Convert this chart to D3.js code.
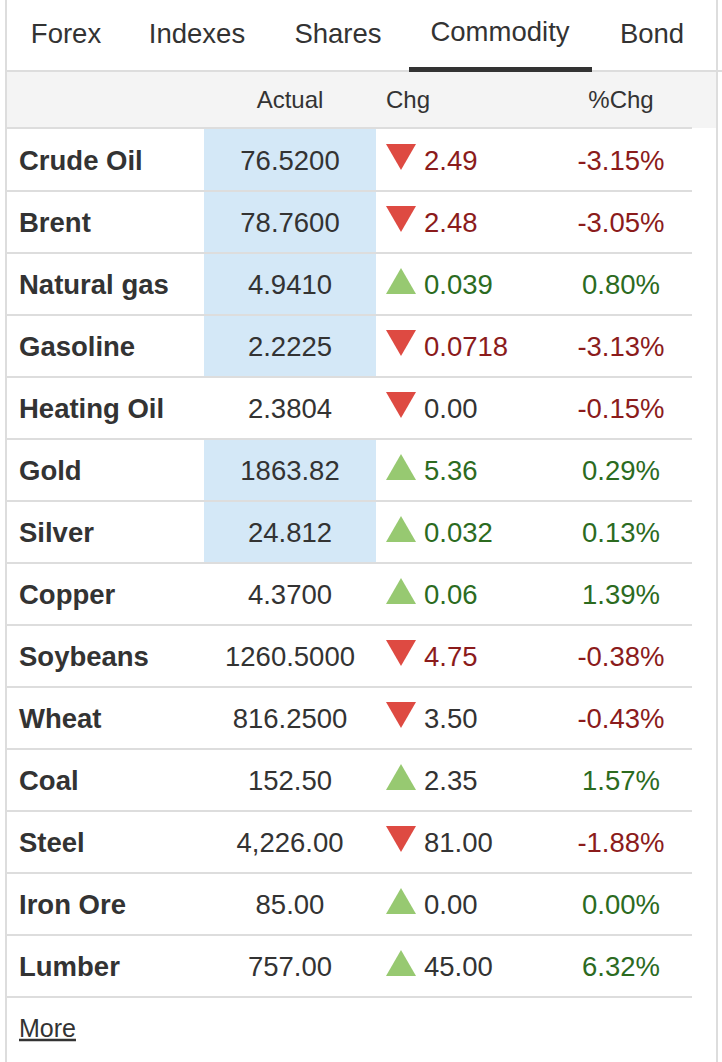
<!DOCTYPE html>
<html>
<head>
<meta charset="utf-8">
<script src="https://cdnjs.cloudflare.com/ajax/libs/d3/7.8.5/d3.min.js"></script>
<style>
    body { margin: 0; background: #fff; }
    svg text { font-family: "Helvetica Neue", Helvetica, Arial, "Liberation Sans", sans-serif; }
</style>
</head>
<body>
<div id="vizHolder"></div>
<script>
// tabs
const tabs = ['Forex', 'Indexes', 'Shares', 'Commodity', 'Bond'];
const activeTab = 'Commodity';
const headers = ['Actual', 'Chg', '%Chg'];

// table values
const names = ['Crude Oil', 'Brent', 'Natural gas', 'Gasoline', 'Heating Oil', 'Gold', 'Silver',
    'Copper', 'Soybeans', 'Wheat', 'Coal', 'Steel', 'Iron Ore', 'Lumber'];
const actual = ['76.5200', '78.7600', '4.9410', '2.2225', '2.3804', '1863.82', '24.812',
    '4.3700', '1260.5000', '816.2500', '152.50', '4,226.00', '85.00', '757.00'];
const chg = ['2.49', '2.48', '0.039', '0.0718', '0.00', '5.36', '0.032',
    '0.06', '4.75', '3.50', '2.35', '81.00', '0.00', '45.00'];
const direction = ['down', 'down', 'up', 'down', 'down', 'up', 'up',
    'up', 'down', 'down', 'up', 'down', 'up', 'up'];
// colour state of the Chg number (flat = neutral text)
const chgTone = ['down', 'down', 'up', 'down', 'flat', 'up', 'up',
    'up', 'down', 'flat', 'flat', 'flat', 'flat', 'flat'];
const pctChg = ['-3.15%', '-3.05%', '0.80%', '-3.13%', '-0.15%', '0.29%', '0.13%',
    '1.39%', '-0.38%', '-0.43%', '1.57%', '-1.88%', '0.00%', '6.32%'];
const highlighted = [true, true, true, true, false, true, true,
    false, false, false, false, false, false, false];

const graphicopt = {
    width: 722,
    height: 1062,
    left: 7,
    right: 716,
    lineEnd: 692,
    tabBottom: 71,
    headBottom: 128,
    tableBottom: 997,
    color: {
        text: '#333333',
        line: '#dddddd',
        head: '#f4f4f4',
        highlight: '#d4e8f7',
        up: '#2c6b1f',
        down: '#8b1b1b',
        upMark: '#97c971',
        downMark: '#de4a42'
    },
    fontSize: 27.5,
    headSize: 24
};

const svg = d3.select('#vizHolder').append('svg')
    .attr('width', graphicopt.width)
    .attr('height', graphicopt.height);

// tabs
const tabX = d3.scaleOrdinal().domain(tabs).range([66, 197, 338, 500, 652]);
svg.append('g').attr('class', 'tabs').selectAll('text').data(tabs)
    .join('text')
    .attr('x', d => tabX(d))
    .attr('y', d => d === activeTab ? 31 : 33)
    .attr('dy', '0.35em')
    .attr('text-anchor', 'middle')
    .attr('font-size', graphicopt.fontSize)
    .attr('fill', graphicopt.color.text)
    .text(d => d);

// header band
svg.append('rect')
    .attr('x', graphicopt.left).attr('y', graphicopt.tabBottom)
    .attr('width', graphicopt.right - graphicopt.left)
    .attr('height', graphicopt.headBottom - graphicopt.tabBottom)
    .attr('fill', graphicopt.color.head);
svg.append('line')
    .attr('x1', graphicopt.left).attr('x2', graphicopt.width)
    .attr('y1', graphicopt.tabBottom).attr('y2', graphicopt.tabBottom)
    .attr('stroke', graphicopt.color.line).attr('stroke-width', 2);
svg.append('rect')
    .attr('x', 409).attr('y', 67)
    .attr('width', 183).attr('height', 5)
    .attr('fill', graphicopt.color.text);

const colX = {actual: 290, mark: 401, chg: 424, pct: 621};
const headPos = [
    {t: headers[0], x: colX.actual, anchor: 'middle'},
    {t: headers[1], x: 386, anchor: 'start'},
    {t: headers[2], x: colX.pct, anchor: 'middle'}
];
svg.append('g').selectAll('text').data(headPos)
    .join('text')
    .attr('x', d => d.x)
    .attr('y', 100)
    .attr('dy', '0.35em')
    .attr('text-anchor', d => d.anchor)
    .attr('font-size', graphicopt.headSize)
    .attr('fill', graphicopt.color.text)
    .text(d => d.t);

const y = d3.scaleBand().domain(names).range([graphicopt.headBottom + 1, graphicopt.tableBottom]);
const rows = names.map((n, i) => ({
    name: n, actual: actual[i], chg: chg[i], dir: direction[i],
    tone: chgTone[i], pct: pctChg[i], hl: highlighted[i]
}));

// highlighted actual cells
svg.append('g').selectAll('rect').data(rows.filter(d => d.hl))
    .join('rect')
    .attr('x', 204)
    .attr('y', d => y(d.name) - 1)
    .attr('width', 172)
    .attr('height', y.bandwidth() + 1)
    .attr('fill', graphicopt.color.highlight);

// row separators
svg.append('g').selectAll('line')
    .data([graphicopt.headBottom].concat(names.map(n => y(n) + y.bandwidth())))
    .join('line')
    .attr('x1', graphicopt.left).attr('x2', graphicopt.lineEnd)
    .attr('y1', d => d).attr('y2', d => d)
    .attr('stroke', graphicopt.color.line).attr('stroke-width', 2);

const toneColor = t => t === 'up' ? graphicopt.color.up : t === 'down' ? graphicopt.color.down : graphicopt.color.text;

const items = svg.append('g').attr('class', 'rows').selectAll('g.item').data(rows)
    .join('g')
    .attr('class', 'item')
    .attr('transform', d => `translate(0,${y(d.name) + y.bandwidth() / 2})`);

items.append('text')
    .attr('x', 19).attr('dy', '0.35em')
    .attr('font-size', graphicopt.fontSize)
    .attr('font-weight', 'bold')
    .attr('fill', graphicopt.color.text)
    .text(d => d.name);

items.append('text')
    .attr('x', colX.actual).attr('dy', '0.35em')
    .attr('text-anchor', 'middle')
    .attr('font-size', graphicopt.fontSize)
    .attr('fill', graphicopt.color.text)
    .text(d => d.actual);

items.append('path')
    .attr('d', d => d.dir === 'down' ? 'M-15,-16L15,-16L0,10Z' : 'M-15,10L15,10L0,-16Z')
    .attr('transform', `translate(${colX.mark},0)`)
    .attr('fill', d => d.dir === 'down' ? graphicopt.color.downMark : graphicopt.color.upMark);

items.append('text')
    .attr('x', colX.chg).attr('dy', '0.35em')
    .attr('font-size', graphicopt.fontSize)
    .attr('fill', d => toneColor(d.tone))
    .text(d => d.chg);

items.append('text')
    .attr('x', colX.pct).attr('dy', '0.35em')
    .attr('text-anchor', 'middle')
    .attr('font-size', graphicopt.fontSize)
    .attr('fill', d => d.pct.startsWith('-') ? graphicopt.color.down : graphicopt.color.up)
    .text(d => d.pct);

// more link
svg.append('text')
    .attr('x', 19).attr('y', 1028).attr('dy', '0.35em')
    .attr('font-size', graphicopt.headSize + 1)
    .attr('fill', graphicopt.color.text)
    .attr('text-decoration', 'underline')
    .text('More');

// outer borders
svg.append('g').selectAll('line').data([graphicopt.left - 1, graphicopt.right + 1])
    .join('line')
    .attr('x1', d => d).attr('x2', d => d)
    .attr('y1', 0).attr('y2', graphicopt.height)
    .attr('stroke', graphicopt.color.line).attr('stroke-width', 2);
</script>
</body>
</html>
